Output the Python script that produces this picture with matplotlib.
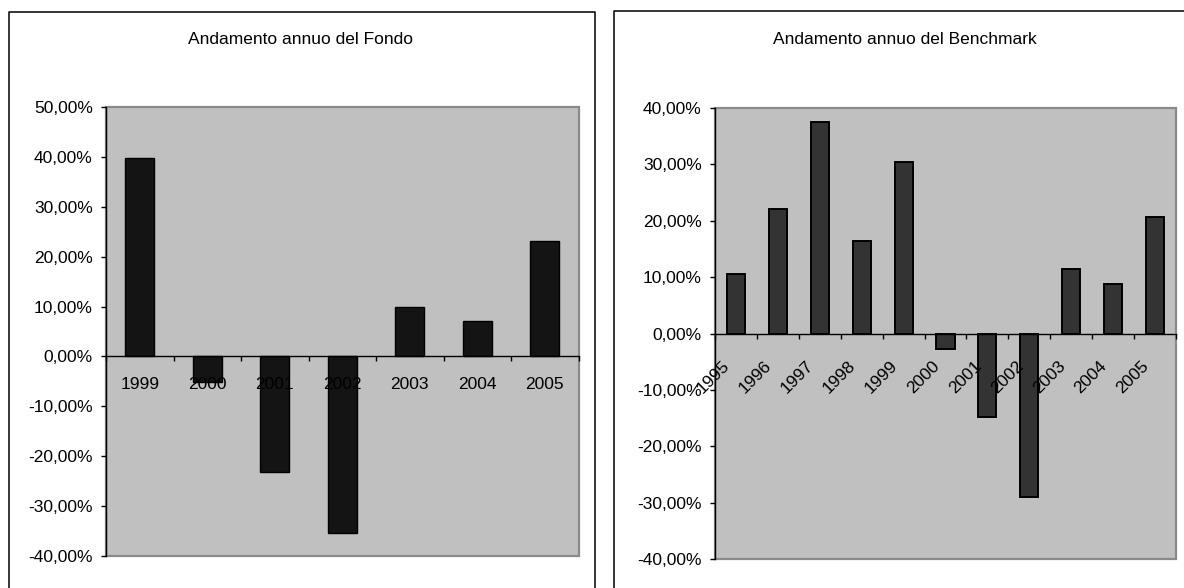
import matplotlib
matplotlib.use("Agg")
import matplotlib.pyplot as plt
from matplotlib.lines import Line2D
from matplotlib.patches import Rectangle
from matplotlib.ticker import FuncFormatter, FixedLocator
from matplotlib.transforms import ScaledTranslation

plt.rcParams['font.family'] = ['Liberation Sans', 'DejaVu Sans']

# ---- data ----
fondo_years = ["1999", "2000", "2001", "2002", "2003", "2004", "2005"]
fondo_values = [39.8, -5.2, -23.1, -35.4, 10.0, 7.1, 23.2]

bench_years = ["1995", "1996", "1997", "1998", "1999", "2000",
               "2001", "2002", "2003", "2004", "2005"]
bench_values = [10.5, 22.0, 37.6, 16.4, 30.4, -2.7, -14.8, -29.0, 11.4, 8.7, 20.6]

title_fondo = "Andamento annuo del Fondo"
title_bench = "Andamento annuo del Benchmark"

W, H = 1184, 588
fig = plt.figure(figsize=(W / 100, H / 100), dpi=100)
FS = 12.5
PX = 0.72  # points per pixel at 100 dpi


def fmt(v, pos):
    return f"{v:.2f}%".replace(".", ",")


def setup(ax, n, ymin, ymax):
    ax.set_facecolor("#c0c0c0")
    ax.set_axisbelow(False)
    ax.set_xlim(-0.5, n - 0.5)
    ax.set_ylim(ymin, ymax)
    ax.set_yticks(range(ymin, ymax + 1, 10))
    ax.yaxis.set_major_formatter(FuncFormatter(fmt))
    ax.tick_params(axis="y", length=5 * PX, width=1, direction="out",
                   pad=8.3 * PX, labelsize=FS, colors="black")
    for s in ("top", "right"):
        ax.spines[s].set_visible(False)
    ax.spines["left"].set_color("black")
    ax.spines["left"].set_linewidth(1)
    ax.spines["bottom"].set_position(("data", 0))
    ax.spines["bottom"].set_color("black")
    ax.spines["bottom"].set_linewidth(1)
    ax.set_xticks(range(n))
    ax.xaxis.set_minor_locator(FixedLocator([k - 0.5 for k in range(n + 1)]))
    ax.tick_params(axis="x", which="minor", length=5 * PX, width=1, direction="out")
    border = Rectangle((0, 0), 1, 1, transform=ax.transAxes, fill=False,
                       edgecolor="#8a8a8a", linewidth=1.6, clip_on=False, zorder=0.5)
    ax.add_patch(border)


# ---- left chart ----
ax1 = fig.add_axes([106 / W, 1 - 556 / H, 472.5 / W, 449 / H])
setup(ax1, len(fondo_years), -40, 50)
ax1.bar(range(len(fondo_years)), fondo_values, width=0.425,
        color="#141414", edgecolor="black", linewidth=1.0, zorder=1)
ax1.set_xticklabels(fondo_years)
ax1.tick_params(axis="x", which="major", length=0, pad=21.0 * PX, labelsize=FS)

# ---- right chart ----
ax2 = fig.add_axes([715 / W, 1 - 559 / H, 461 / W, 451 / H])
setup(ax2, len(bench_years), -40, 40)
ax2.bar(range(len(bench_years)), bench_values, width=0.43,
        color="#333333", edgecolor="black", linewidth=1.4, zorder=1)
ax2.set_xticklabels(bench_years)
ax2.tick_params(axis="x", which="major", length=0, pad=30 * PX, labelsize=FS)
off = ScaledTranslation(-8.5 / 100, 0, fig.dpi_scale_trans)
for lab in ax2.get_xticklabels():
    lab.set_rotation(45)
    lab.set_ha("right")
    lab.set_va("center")
    lab.set_rotation_mode("anchor")
    lab.set_transform(lab.get_transform() + off)

# ---- titles ----
fig.text(301 / W, 1 - 39 / H, title_fondo, ha="center", va="center", fontsize=FS)
fig.text(905 / W, 1 - 39 / H, title_bench, ha="center", va="center", fontsize=FS)

# ---- outer chart boxes ----
fig.add_artist(Line2D([8.5 / W, 8.5 / W, 595 / W, 595 / W],
                      [-0.02, 1 - 11.7 / H, 1 - 11.7 / H, -0.02],
                      transform=fig.transFigure, color="black", linewidth=1.1))
fig.add_artist(Line2D([613.5 / W, 613.5 / W, 1.02],
                      [-0.02, 1 - 11 / H, 1 - 11 / H],
                      transform=fig.transFigure, color="black", linewidth=1.1))

fig.savefig("out.png", dpi=100, facecolor="white")
